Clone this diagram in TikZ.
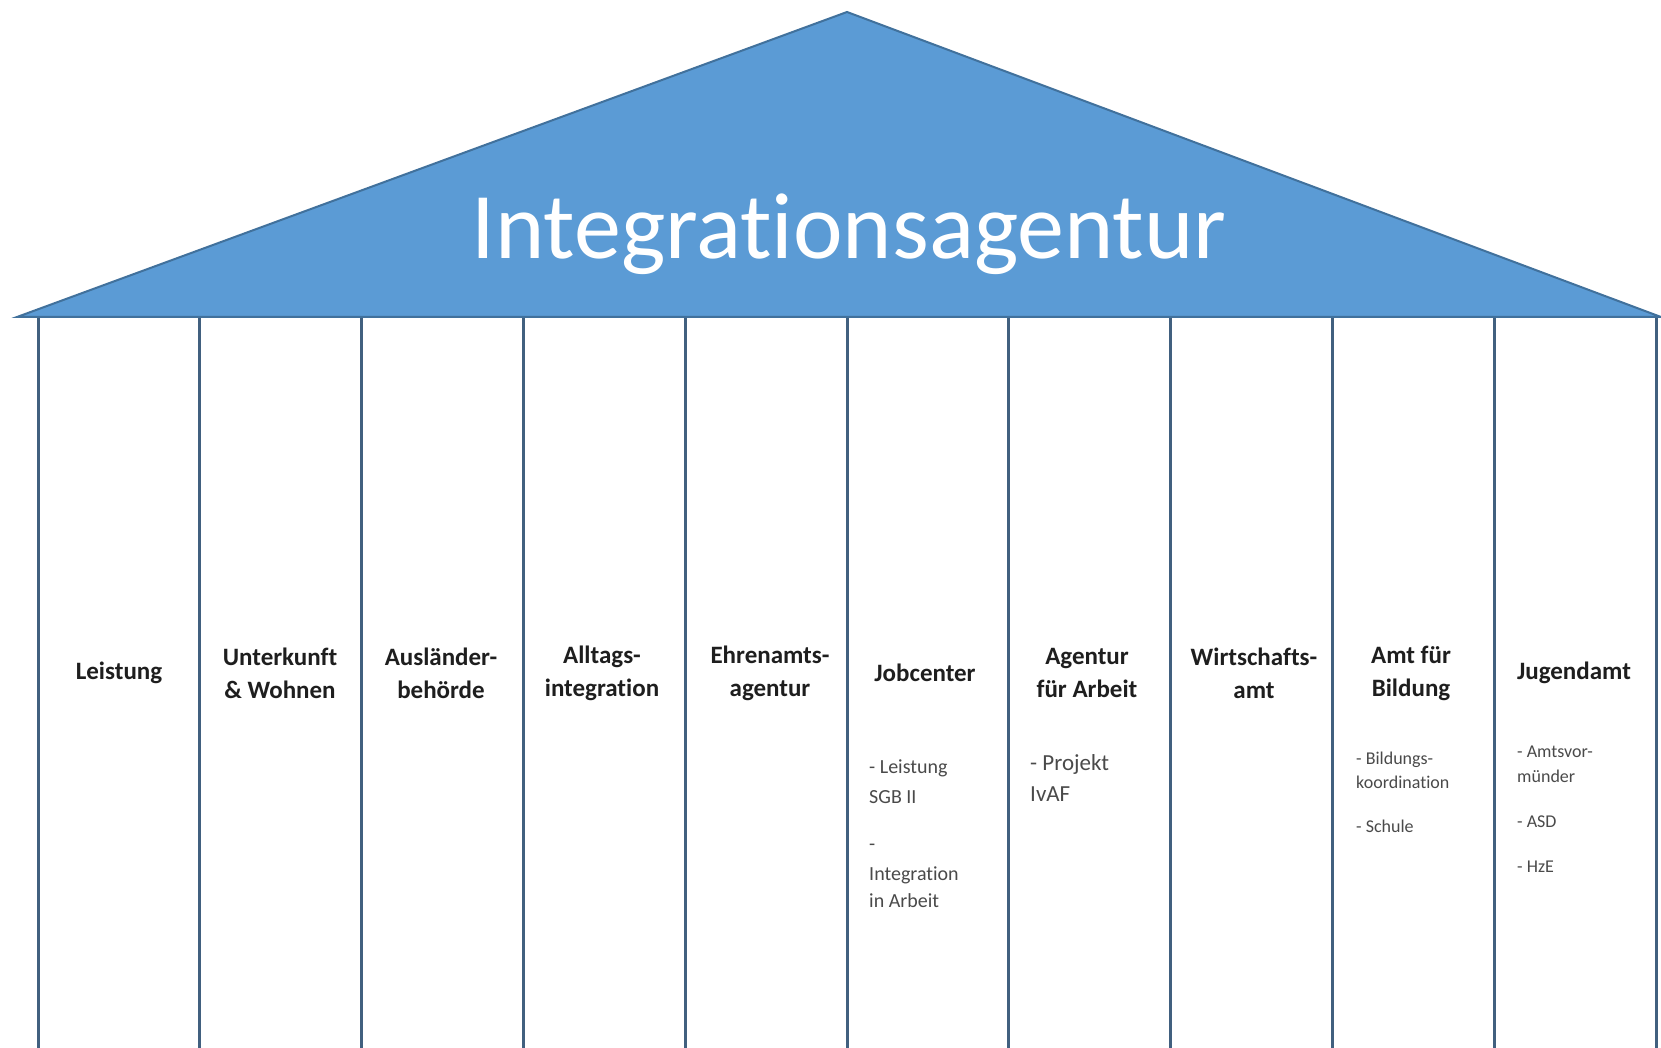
\documentclass[tikz,border=0pt]{standalone}
\usepackage{fontspec}
\setmainfont[Ligatures=NoCommon]{Carlito}
\definecolor{roofblue}{HTML}{5B9BD5}
\definecolor{roofedge}{HTML}{41719C}
\definecolor{pillar}{HTML}{41607F}
\definecolor{headtext}{HTML}{1E1E1E}
\definecolor{itemtext}{HTML}{4A4A4A}
\begin{document}
\begin{tikzpicture}[x=1pt,y=-1pt,
  roof/.style={fill=roofblue,draw=roofedge,line width=2pt,line join=miter},
  pillarline/.style={draw=pillar,line width=3pt},
  title/.style={text=white,font=\fontsize{94}{100}\selectfont,anchor=base,inner sep=0pt},
  head/.style={text=headtext,font=\bfseries\fontsize{25}{33}\selectfont,align=center,inner sep=0pt},
  item/.style={text=itemtext,anchor=west,inner sep=0pt,text height=0.7em,text depth=0.2em},
  itemA/.style={item,font=\fontsize{20}{24}\selectfont},
  itemB/.style={item,font=\fontsize{23}{28}\selectfont},
  itemC/.style={item,font=\fontsize{18}{22}\selectfont}]
\useasboundingbox (0,0) rectangle (1661,1048);
\fill[white] (0,0) rectangle (1661,1048);

% roof
\coordinate (roofL) at (17,317);
\coordinate (roofT) at (847,12);
\coordinate (roofR) at (1661,317);
\draw[roof] (roofL) -- (roofT) -- (roofR) -- cycle;
\node[title] (title) at (849,259) {Integrationsagentur};

% pillars
\foreach \i in {0,...,10}{
  \coordinate (p\i top) at ({38+161.8*\i},318);
  \coordinate (p\i bot) at ({38+161.8*\i},1048);
  \draw[pillarline] (p\i top) -- (p\i bot);
}

% pillar headings
\node[head] (h1) at (119,673) {Leistung};
\node[head] (h2) at (280,673) {Unterkunft\\\& Wohnen};
\node[head] (h3) at (441,673) {Ausländer-\\behörde};
\node[head] (h4) at (602,673) {Alltags-\\integration};
\node[head] (h5) at (770,673) {Ehrenamts-\\agentur};
\node[head] (h6) at (925,673) {Jobcenter};
\node[head] (h7) at (1087,673) {Agentur\\für Arbeit};
\node[head] (h8) at (1254,673) {Wirtschafts-\\amt};
\node[head] (h9) at (1411,673) {Amt für\\Bildung};
\node[head] (h10) at (1574,673) {Jugendamt};

% Jobcenter
\node[itemA] (j1) at (869,771) {- Leistung};
\node[itemA] (j2) at (869,801) {SGB II};
\node[itemA] (j3) at (869,848) {-};
\node[itemA] (j4) at (869,878) {Integration};
\node[itemA] (j5) at (869,905) {in Arbeit};

% Agentur fuer Arbeit
\node[itemB] (a1) at (1030,768) {- Projekt};
\node[itemB] (a2) at (1030,799) {IvAF};

% Amt fuer Bildung
\node[itemC] (b1) at (1356,762) {- Bildungs-};
\node[itemC] (b2) at (1356,786) {koordination};
\node[itemC] (b3) at (1356,830) {- Schule};

% Jugendamt
\node[itemC] (g1) at (1517,755) {- Amtsvor-};
\node[itemC] (g2) at (1517,780) {münder};
\node[itemC] (g3) at (1517,825) {- ASD};
\node[itemC] (g4) at (1517,870) {- HzE};
\end{tikzpicture}
\end{document}
